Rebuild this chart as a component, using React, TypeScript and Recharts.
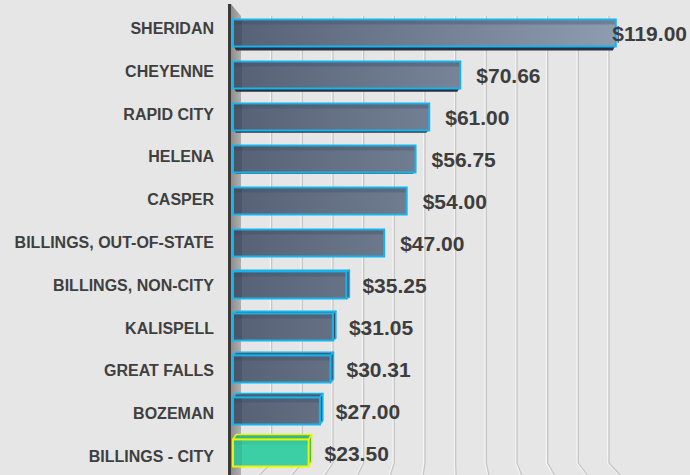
import React from 'react';
import { BarChart, Bar, XAxis, YAxis, CartesianGrid, LabelList } from 'recharts';

const cities = [
  'SHERIDAN',
  'CHEYENNE',
  'RAPID CITY',
  'HELENA',
  'CASPER',
  'BILLINGS, OUT-OF-STATE',
  'BILLINGS, NON-CITY',
  'KALISPELL',
  'GREAT FALLS',
  'BOZEMAN',
  'BILLINGS - CITY',
];
const fees = [119.0, 70.66, 61.0, 56.75, 54.0, 47.0, 35.25, 31.05, 30.31, 27.0, 23.5];
const xTicks = [0, 10, 20, 30, 40, 50, 60, 70, 80, 90, 100, 110, 120];
const highlightCity = 'BILLINGS - CITY';

const data = cities.map((city, i) => ({ city, fee: fees[i] }));

const W = 690;
const H = 475;
const AXIS_W = 233;
const MARGIN = { top: 11.5, right: 71, bottom: 1.5, left: 0 };
const FONT = '"Liberation Sans", Arial, sans-serif';
const MID = 4.5;

// back wall is drawn a bit narrower than the bar plane (perspective)
const WALL_X = 241;
const WALL_SCALE = 368 / 386;

const toWall = (x: number) => WALL_X + (x - AXIS_W) * WALL_SCALE;

function GridLine(props: any) {
  const { x1, index } = props;
  if (index === 0 || Math.abs(x1 - AXIS_W) < 0.5) {
    // side wall + axis line
    return (
      <g>
        <polygon points={`231,4 ${WALL_X},16 ${WALL_X},${H} 231,${H}`} fill="url(#wallGrad)" />
        <line x1={229.5} y1={4} x2={229.5} y2={H} stroke="#3a3a3a" strokeWidth={3} />
      </g>
    );
  }
  const xb = toWall(x1);
  const shift = (xb - 450) * 0.07;
  const pts = `${xb},16 ${xb},463 ${xb + shift},${H}`;
  return (
    <g>
      <polyline points={pts} fill="none" stroke="#f4f4f4" strokeWidth={1.5} transform="translate(-1.2,0)" />
      <polyline points={pts} fill="none" stroke="#c4c4c4" strokeWidth={1.2} />
    </g>
  );
}

function CityTick(props: any) {
  const { y, payload, index } = props;
  const dy = (index - 5) * 0.8;
  return (
    <text
      x={214}
      y={y + dy}
      dy={5.5}
      textAnchor="end"
      fontFamily={FONT}
      fontWeight="bold"
      fontSize={16}
      fill="#3f3f3f"
    >
      {payload.value}
    </text>
  );
}

function Bar3D(props: any) {
  const { x, y, width, height, index, payload } = props;
  const hi = payload.city === highlightCity;
  const depth = (MID - index) * 0.9; // >0 bottom face visible, <0 top face visible
  const fill = hi ? '#3ccfa6' : 'url(#barGrad)';
  const stroke = hi ? '#eef200' : '#17b4ec';
  const x2 = x + width;
  const y2 = y + height;
  const parts: React.ReactNode[] = [];
  if (depth > 0.5) {
    parts.push(
      <path
        key="bottom"
        d={`M${x + 1},${y2} L${x2 - 1},${y2} L${x2 - 3},${y2 + depth} L${x + 3},${y2 + depth} Z`}
        fill="#283040"
      />
    );
  } else if (depth < -0.5) {
    const d = -depth;
    const dx = 3;
    parts.push(
      <path
        key="top"
        d={`M${x},${y} L${x + dx},${y - d} L${x2 + dx},${y - d} L${x2},${y} Z`}
        fill={hi ? '#2fb88e' : '#4c5c70'}
        stroke={stroke}
        strokeWidth={1.5}
        strokeLinejoin="round"
      />,
      <path
        key="side"
        d={`M${x2},${y} L${x2 + dx},${y - d} L${x2 + dx},${y2 - d} L${x2},${y2} Z`}
        fill={hi ? '#2aa884' : '#3f4c5e'}
        stroke={stroke}
        strokeWidth={1.5}
        strokeLinejoin="round"
      />
    );
  }
  return (
    <g>
      {parts}
      <rect x={x} y={y} width={width} height={height} fill={fill} stroke={stroke} strokeWidth={2} />
      <rect x={x + 1} y={y + 1} width={Math.max(0, width - 2)} height={4} fill={hi ? '#2fb88e' : '#3c4a60'} opacity={0.35} />
      <rect x={x + 1} y={y + 1} width={8} height={Math.max(0, height - 2)} fill="#2c3444" opacity={hi ? 0.1 : 0.25} />
    </g>
  );
}

function FeeLabel(props: any) {
  const { x, y, width, height, value } = props;
  const text = `$${Number(value).toFixed(2)}`;
  const end = x + width;
  const tw = text.length * 11;
  const fits = end + 16 + tw < W - 2;
  return (
    <text
      x={fits ? end + 16 : W - 3}
      y={y + height / 2}
      dy={7.5}
      textAnchor={fits ? 'start' : 'end'}
      fontFamily={FONT}
      fontWeight="bold"
      fontSize={21}
      fill="#3d3d3d"
    >
      {text}
    </text>
  );
}

export default function App() {
  return (
    <div style={{ position: 'absolute', left: 0, top: 0, width: W, height: H, background: '#e6e6e6', overflow: 'hidden' }}>
      <BarChart width={W} height={H} data={data} layout="vertical" margin={MARGIN} barSize={27}>
        <defs>
          <linearGradient id="barGrad" x1={AXIS_W} x2={616} y1={0} y2={0} gradientUnits="userSpaceOnUse">
            <stop offset="0%" stopColor="#566175" />
            <stop offset="100%" stopColor="#8e9cb0" />
          </linearGradient>
          <linearGradient id="wallGrad" x1="0" x2="1" y1="0" y2="0">
            <stop offset="0%" stopColor="#8e8e8e" />
            <stop offset="100%" stopColor="#b0b0b0" />
          </linearGradient>
        </defs>
        <CartesianGrid horizontal={false} vertical={GridLine} />
        <XAxis type="number" domain={[0, 120]} ticks={xTicks} hide />
        <YAxis
          type="category"
          dataKey="city"
          width={AXIS_W}
          axisLine={false}
          tickLine={false}
          tick={CityTick}
          interval={0}
        />
        <Bar dataKey="fee" shape={Bar3D} isAnimationActive={false}>
          <LabelList dataKey="fee" content={FeeLabel} />
        </Bar>
      </BarChart>
    </div>
  );
}
